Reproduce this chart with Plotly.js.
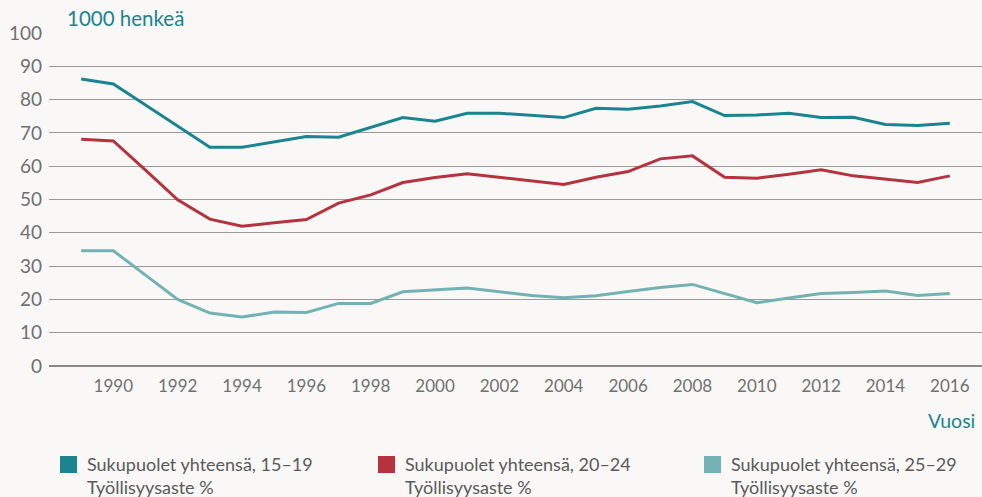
<!DOCTYPE html>
<html>
<head>
<meta charset="utf-8">
<script src="https://cdn.plot.ly/plotly-3.0.1.min.js"></script>
<style>
html,body{margin:0;padding:0;background:#f9f8f6;}
#chart{width:982px;height:497px;}
</style>
</head>
<body>
<div id="chart"></div>
<script>
var years = [1989,1990,1991,1992,1993,1994,1995,1996,1997,1998,1999,2000,2001,2002,2003,2004,2005,2006,2007,2008,2009,2010,2011,2012,2013,2014,2015,2016];
var age1519 = [86.2,84.7,78.4,72.0,65.7,65.7,67.3,68.9,68.7,71.6,74.6,73.5,75.9,75.9,75.3,74.6,77.4,77.1,78.1,79.4,75.2,75.4,75.9,74.6,74.7,72.5,72.2,72.9];
var age2024 = [68.1,67.6,58.8,49.9,44.1,42.0,43.0,44.0,48.9,51.4,55.1,56.6,57.7,56.6,55.5,54.5,56.7,58.4,62.2,63.1,56.7,56.4,57.6,58.9,57.1,56.1,55.1,57.1];
var age2529 = [34.6,34.6,27.3,20.0,15.9,14.7,16.2,16.1,18.8,18.8,22.3,22.8,23.4,22.3,21.2,20.5,21.1,22.4,23.6,24.5,21.7,19.0,20.4,21.8,22.1,22.5,21.2,21.8];
var seriesNames = ["Sukupuolet yhteensä, 15–19","Sukupuolet yhteensä, 20–24","Sukupuolet yhteensä, 25–29"];
var seriesSub = "Työllisyysaste %";
var colors = ["#1a8490","#b5323f","#72b2b4"];
var xTicks = [1990,1992,1994,1996,1998,2000,2002,2004,2006,2008,2010,2012,2014,2016];
var yTicks = [0,10,20,30,40,50,60,70,80,90,100];

var data = [age1519, age2024, age2529].map(function(vals, i){
  return {x: years, y: vals, type:'scatter', mode:'lines', name: seriesNames[i],
          line:{color: colors[i], width:3}, hoverinfo:'x+y', showlegend:false};
});

var font = "Lato, 'Open Sans', sans-serif";
var shapes = [], annotations = [];
var legX = [60, 378, 704];
legX.forEach(function(px, i){
  shapes.push({type:'rect', xref:'paper', yref:'paper',
    x0:(px-49)/933, x1:(px+17-49)/933, y0:-(456-366)/333, y1:-(473-366)/333,
    fillcolor: colors[i], line:{width:0}});
  annotations.push({xref:'paper', yref:'paper', x:(px+25-49)/933, y:-(475-366)/333,
    xanchor:'left', yanchor:'middle', showarrow:false, align:'left',
    text: seriesNames[i] + '<br>' + seriesSub,
    font:{family:font, size:18, color:'#5a5a5a'}});
});
annotations.push({xref:'paper', yref:'paper', x:(65-49)/933, y:1+(33-18)/333,
  xanchor:'left', yanchor:'middle', showarrow:false, text:'1000 henkeä',
  font:{family:font, size:20.5, color:'#1a8490'}});
annotations.push({xref:'paper', yref:'paper', x:(977-49)/933, y:-(420-366)/333,
  xanchor:'right', yanchor:'middle', showarrow:false, text:'Vuosi',
  font:{family:font, size:19.5, color:'#1a8490'}});

var layout = {
  width:982, height:497,
  paper_bgcolor:'#f9f8f6', plot_bgcolor:'#f9f8f6',
  margin:{l:49, r:0, t:33, b:131, pad:0},
  showlegend:false,
  xaxis:{range:[1988,2017], tickvals:xTicks, ticktext:xTicks.map(String),
    showgrid:false, zeroline:false, showline:false, ticks:'',
    tickfont:{family:font, size:17, color:'#707070'}, ticklabelstandoff:8, fixedrange:true},
  yaxis:{range:[0,100], tickvals:yTicks, showgrid:true, gridcolor:'#9a9a9a', gridwidth:1,
    zeroline:true, zerolinecolor:'#8a8a8a', zerolinewidth:2.5, showline:false, ticks:'',
    tickfont:{family:font, size:19, color:'#707070'}, ticklabelstandoff:6, fixedrange:true},
  shapes: shapes,
  annotations: annotations
};
Plotly.newPlot('chart', data, layout, {displayModeBar:false, staticPlot:true});
</script>
</body>
</html>
